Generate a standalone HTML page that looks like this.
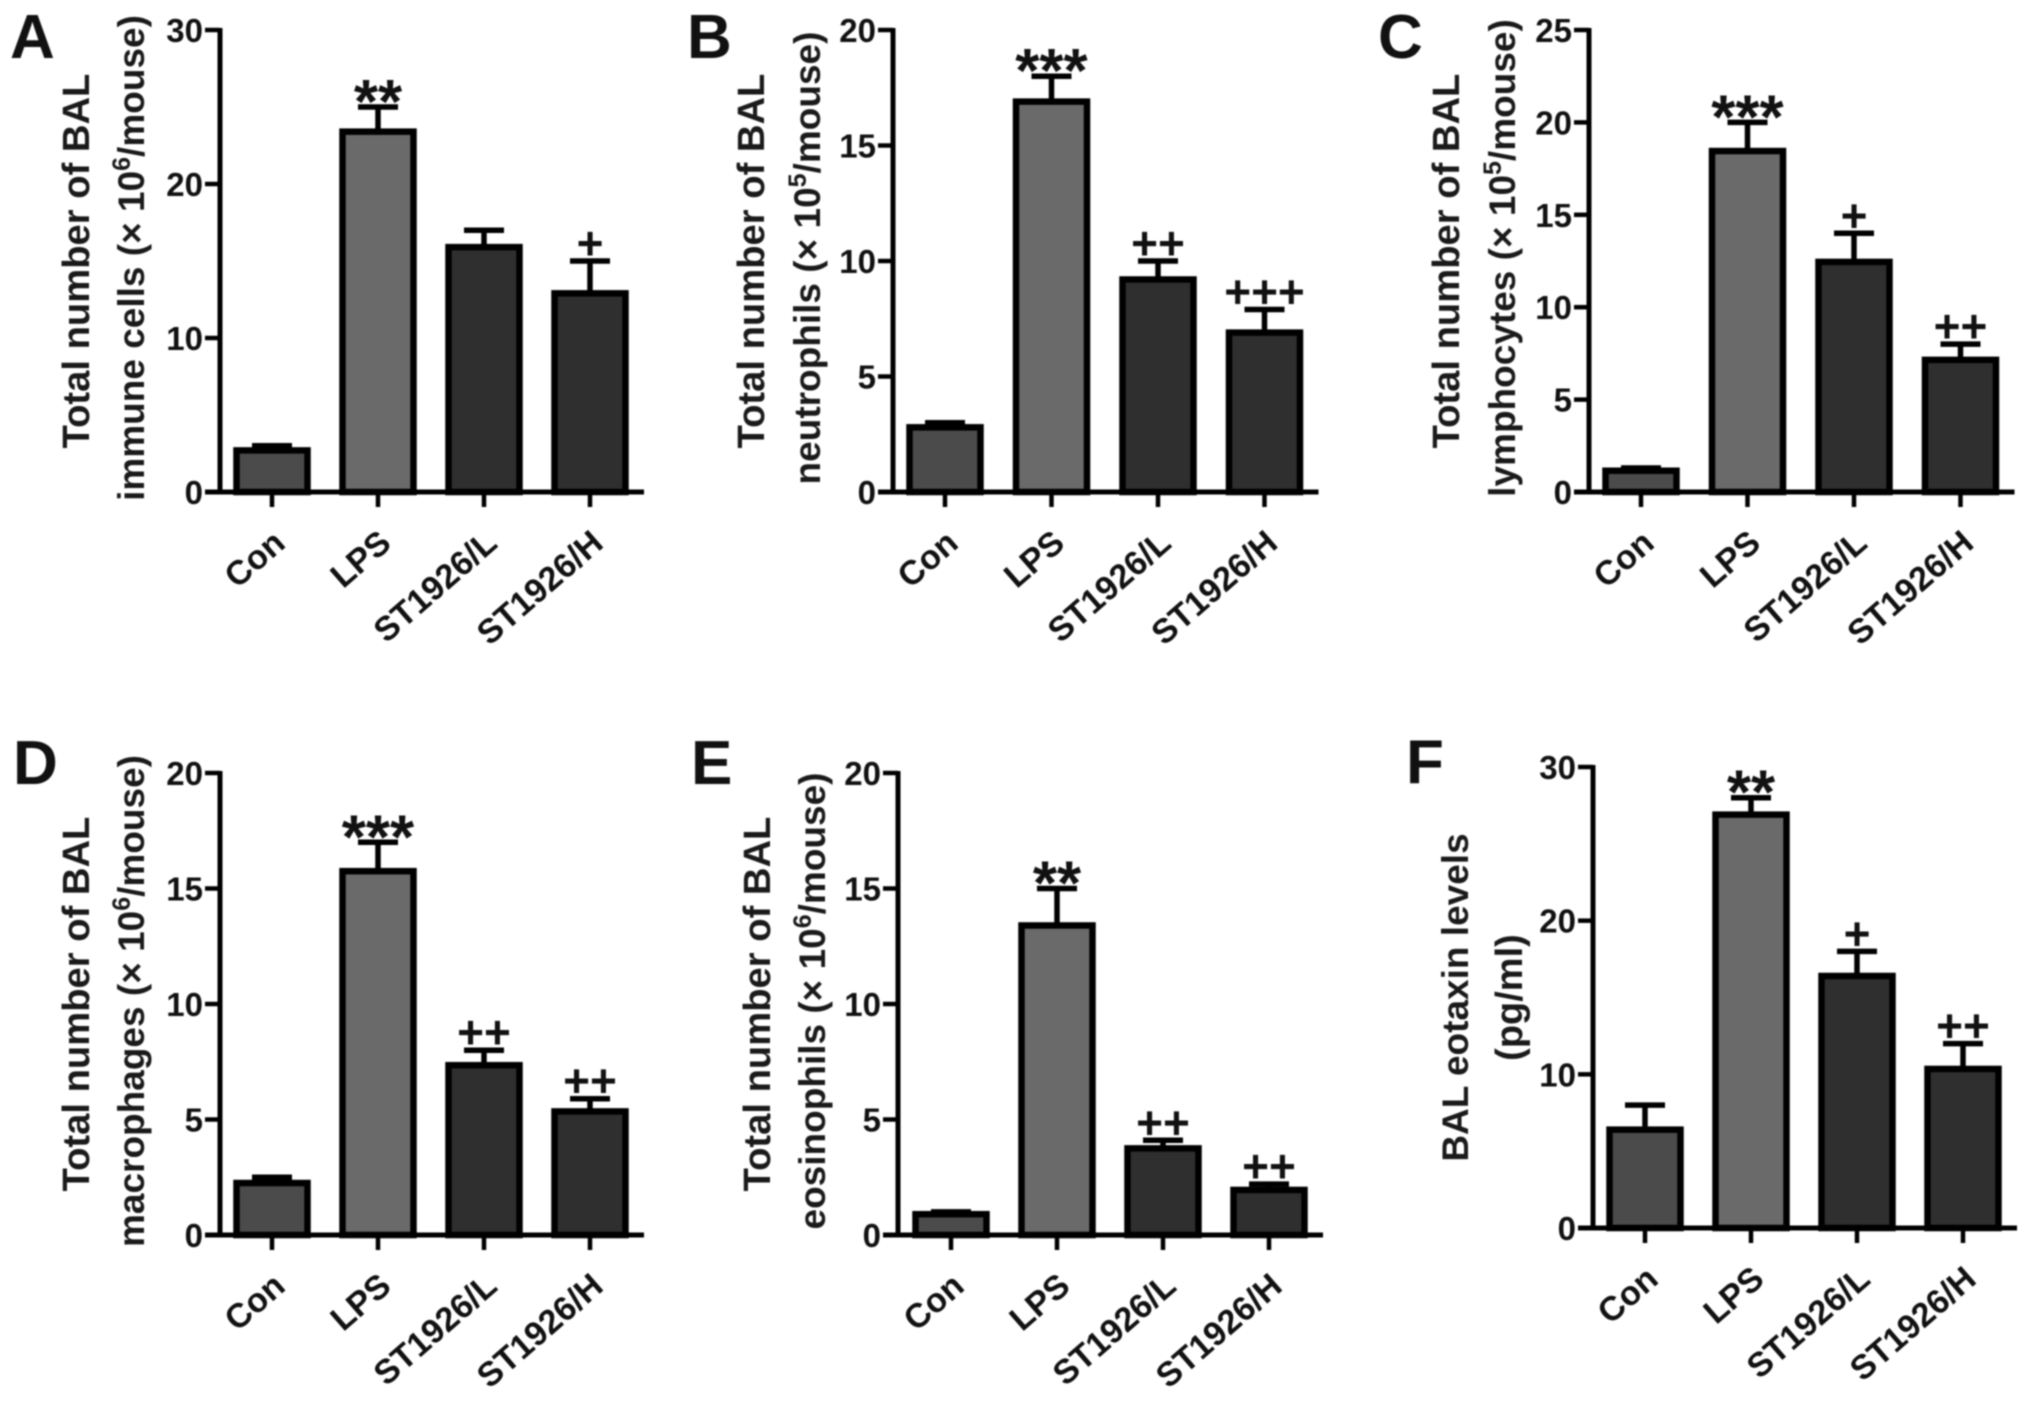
<!DOCTYPE html>
<html>
<head>
<meta charset="utf-8">
<title>BAL cell counts</title>
<style>
html,body{margin:0;padding:0;background:#fff;}
svg{display:block;filter:blur(0.8px);font-family:"Liberation Sans",sans-serif;font-weight:bold;}
</style>
</head>
<body>
<svg id="figure" xmlns="http://www.w3.org/2000/svg" width="2031" height="1402" viewBox="0 0 2031 1402"></svg>
<script>
const categories = ['Con', 'LPS', 'ST1926/L', 'ST1926/H'];

const panelAValues = [2.7, 23.4, 15.9, 12.9];
const panelAUpper = [3.0, 25, 17, 15];
const panelAMarks = ['', '**', '', '+'];
const panelATicks = [0, 10, 20, 30];
const panelATitle = ['Total number of BAL', 'immune cells (× 10^6^/mouse)'];

const panelBValues = [2.8, 16.9, 9.2, 6.9];
const panelBUpper = [3.0, 18, 10, 7.9];
const panelBMarks = ['', '***', '++', '+++'];
const panelBTicks = [0, 5, 10, 15, 20];
const panelBTitle = ['Total number of BAL', 'neutrophils (× 10^5^/mouse)'];

const panelCValues = [1.15, 18.45, 12.45, 7.15];
const panelCUpper = [1.3, 20, 14, 8];
const panelCMarks = ['', '***', '+', '++'];
const panelCTicks = [0, 5, 10, 15, 20, 25];
const panelCTitle = ['Total number of BAL', 'lymphocytes (× 10^5^/mouse)'];

const panelDValues = [2.25, 15.75, 7.35, 5.35];
const panelDUpper = [2.5, 17, 8, 5.9];
const panelDMarks = ['', '***', '++', '++'];
const panelDTicks = [0, 5, 10, 15, 20];
const panelDTitle = ['Total number of BAL', 'macrophages (× 10^6^/mouse)'];

const panelEValues = [0.9, 13.4, 3.75, 1.95];
const panelEUpper = [1.0, 15, 4.1, 2.2];
const panelEMarks = ['', '**', '++', '++'];
const panelETicks = [0, 5, 10, 15, 20];
const panelETitle = ['Total number of BAL', 'eosinophils (× 10^6^/mouse)'];

const panelFValues = [6.4, 26.9, 16.4, 10.35];
const panelFUpper = [8, 28, 18, 12];
const panelFMarks = ['', '**', '+', '++'];
const panelFTicks = [0, 10, 20, 30];
const panelFTitle = ['BAL eotaxin levels', '(pg/ml)'];

const NS = 'http://www.w3.org/2000/svg';
const root = document.getElementById('figure');

function make(parent, tag, attrs) {
  const el = document.createElementNS(NS, tag);
  for (const k in attrs) el.setAttribute(k, attrs[k]);
  parent.appendChild(el);
  return el;
}

function drawPanel(letter, values, upper, marks, ticks, titleLines, box) {
  const id = letter.toLowerCase();
  const g = make(root, 'g', {});
  
  

  const yMax = ticks[ticks.length - 1];
  const yScale = v => box.bottom - (v / yMax) * (box.bottom - box.top);
  const xScale = i => box.axisX + box.start + i * box.step;
  const fills = ['#4b4b4b', '#6a6a6a', '#2f2f2f', '#2f2f2f'];

  const label = make(g, 'text', {x: box.letterX, y: box.letterY, 'font-size': 62, fill: '#111'});
  
  
  label.textContent = letter;

  values.forEach((v, i) => {
    const cx = xScale(i);
    const err = make(g, 'path', {
      d: 'M' + cx + ' ' + yScale(v) + 'V' + yScale(upper[i]) + 'M' + (cx - 20) + ' ' + yScale(upper[i]) + 'H' + (cx + 20),
      stroke: '#000', 'stroke-width': 5.5, fill: 'none'
    });
    
    

    const bar = make(g, 'rect', {
      x: cx - 35.5, y: yScale(v), width: 71, height: box.bottom - yScale(v),
      fill: fills[i], stroke: '#000', 'stroke-width': 6.5
    });
    
    

    if (marks[i]) {
      const isStar = marks[i][0] === '*';
      const mark = make(g, 'text', {
        x: cx, y: yScale(upper[i]) + (isStar ? 16 : -2),
        'font-size': isStar ? 62 : 46, 'text-anchor': 'middle', fill: '#111'
      });
      
      
      mark.textContent = marks[i];
    }

    const xTick = make(g, 'line', {x1: cx, x2: cx, y1: box.bottom, y2: box.bottom + 15, stroke: '#000', 'stroke-width': 4.5});
    
    

    const lx = cx + 15, ly = box.bottom + 54;
    const xLabel = make(g, 'text', {
      x: lx, y: ly, 'font-size': 34, 'text-anchor': 'end', fill: '#111',
      transform: 'rotate(-41 ' + lx + ' ' + ly + ')'
    });
    
    
    xLabel.textContent = categories[i];
  });

  const yAxis = make(g, 'line', {x1: box.axisX, x2: box.axisX, y1: box.top - 2, y2: box.bottom + 2, stroke: '#000', 'stroke-width': 5});
  
  

  const xAxis = make(g, 'line', {x1: box.axisX - 15, x2: xScale(values.length - 1) + 54, y1: box.bottom, y2: box.bottom, stroke: '#000', 'stroke-width': 5});
  
  

  ticks.forEach(t => {
    const y = yScale(t);
    const tick = make(g, 'line', {x1: box.axisX - 15, x2: box.axisX, y1: y, y2: y, stroke: '#000', 'stroke-width': 4.5});
    
    

    const tl = make(g, 'text', {x: box.axisX - 17, y: y + 12, 'font-size': 33, 'text-anchor': 'end', fill: '#111'});
    
    
    tl.textContent = t;
  });

  const midY = (box.top + box.bottom) / 2;
  titleLines.forEach((line, n) => {
    const bx = box.titleX[n];
    const title = make(g, 'text', {
      x: bx, y: midY - box.titleLift[n], 'font-size': box.titleSize[n], 'text-anchor': 'middle', fill: '#1a1a1a',
      transform: 'rotate(-90 ' + bx + ' ' + (midY - box.titleLift[n]) + ')'
    });
    
    
    line.split('^').forEach((part, k) => {
      const span = make(title, 'tspan', {});
      if (k === 1) {
        span.setAttribute('font-size', 25);
        span.setAttribute('dy', -14);
      } else if (k === 2) {
        span.setAttribute('dy', 14);
      }
      span.textContent = part;
    });
  });
}

drawPanel('A', panelAValues, panelAUpper, panelAMarks, panelATicks, panelATitle,
  {axisX: 220, top: 30, bottom: 492, start: 52, step: 106, letterX: 10, letterY: 58, titleX: [89, 144], titleLift: [0, 3], titleSize: [38.2, 37]});
drawPanel('B', panelBValues, panelBUpper, panelBMarks, panelBTicks, panelBTitle,
  {axisX: 893, top: 30, bottom: 492, start: 52, step: 106.5, letterX: 687, letterY: 58, titleX: [764, 820], titleLift: [0, 3], titleSize: [38.2, 37]});
drawPanel('C', panelCValues, panelCUpper, panelCMarks, panelCTicks, panelCTitle,
  {axisX: 1589, top: 30, bottom: 492, start: 52, step: 106.5, letterX: 1378, letterY: 58, titleX: [1459, 1515], titleLift: [0, 3], titleSize: [38.2, 37]});
drawPanel('D', panelDValues, panelDUpper, panelDMarks, panelDTicks, panelDTitle,
  {axisX: 220, top: 773, bottom: 1235, start: 52, step: 106, letterX: 13, letterY: 784, titleX: [89, 144], titleLift: [0, 3], titleSize: [38.2, 37]});
drawPanel('E', panelEValues, panelEUpper, panelEMarks, panelETicks, panelETitle,
  {axisX: 898, top: 773, bottom: 1235, start: 53, step: 106, letterX: 691, letterY: 784, titleX: [770, 825], titleLift: [0, 3], titleSize: [38.2, 37]});
drawPanel('F', panelFValues, panelFUpper, panelFMarks, panelFTicks, panelFTitle,
  {axisX: 1593, top: 767, bottom: 1228, start: 52, step: 106, letterX: 1406, letterY: 783, titleX: [1468, 1522], titleLift: [0, 0], titleSize: [37, 38]});
</script>
</body>
</html>
